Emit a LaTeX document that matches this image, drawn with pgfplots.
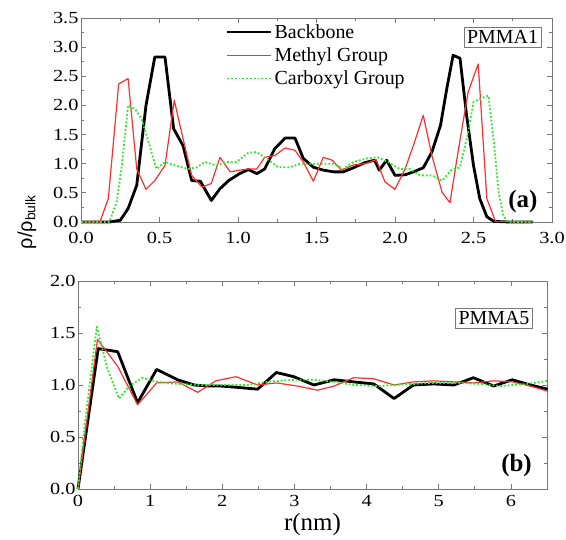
\documentclass[border=0pt]{standalone}
\usepackage{fontspec}
\setmainfont{Liberation Serif}
\newfontfamily\tickfont{Liberation Serif}[FakeStretch=1.2]
\newfontfamily\arialfont{Liberation Sans}
\usepackage{pgfplots}
\pgfplotsset{compat=1.18}
\definecolor{myred}{RGB}{255,45,45}
\definecolor{mygreen}{RGB}{40,235,40}
\definecolor{axgray}{RGB}{120,120,120}

\pgfplotstableread{
x y
0.00 0.00
0.18 0.00
0.25 0.03
0.30 0.23
0.355 0.63
0.414 2.00
0.47 2.83
0.535 2.83
0.59 1.60
0.65 1.31
0.705 0.71
0.76 0.70
0.83 0.37
0.885 0.57
0.94 0.71
1.01 0.83
1.066 0.90
1.12 0.83
1.17 0.91
1.235 1.26
1.30 1.44
1.363 1.44
1.416 1.09
1.48 0.94
1.543 0.89
1.61 0.86
1.67 0.86
1.735 0.93
1.81 1.02
1.87 1.06
1.90 0.89
1.947 1.06
2.00 0.80
2.064 0.81
2.117 0.86
2.18 0.93
2.235 1.20
2.29 1.66
2.33 2.29
2.37 2.86
2.414 2.81
2.456 1.83
2.50 0.97
2.54 0.40
2.585 0.09
2.63 0.01
2.73 0.00
2.88 0.00
}\backboneA

\pgfplotstableread{
x y
0.00 0.00
0.12 0.00
0.174 0.40
0.24 2.37
0.30 2.46
0.355 0.91
0.414 0.56
0.47 0.71
0.535 0.97
0.594 2.09
0.65 1.43
0.705 0.80
0.77 0.60
0.83 0.66
0.885 1.11
0.95 0.86
1.01 0.89
1.066 0.91
1.12 0.91
1.17 1.11
1.235 1.14
1.30 1.27
1.363 1.23
1.416 1.03
1.48 0.70
1.543 1.11
1.60 1.06
1.66 0.89
1.735 0.98
1.81 1.00
1.88 1.07
1.936 0.69
2.00 0.56
2.064 0.91
2.117 1.31
2.18 1.83
2.235 1.14
2.30 0.51
2.35 0.33
2.405 1.26
2.466 2.23
2.53 2.71
2.585 0.40
2.64 0.01
2.88 0.00
}\methylA

\pgfplotstableread{
x y
0.00 0.00
0.18 0.00
0.227 0.34
0.26 0.97
0.30 2.00
0.344 1.94
0.386 1.77
0.43 1.37
0.48 0.91
0.535 1.03
0.60 0.97
0.68 0.91
0.74 0.94
0.79 1.03
0.864 0.97
0.93 1.03
0.99 1.03
1.066 1.19
1.12 1.20
1.18 1.09
1.257 0.94
1.33 0.94
1.395 1.00
1.46 1.00
1.543 1.00
1.61 1.00
1.67 0.91
1.735 1.03
1.82 1.09
1.89 1.11
1.955 1.03
2.03 0.91
2.095 0.91
2.16 0.80
2.235 0.80
2.30 0.71
2.36 0.89
2.414 0.94
2.466 1.54
2.50 2.06
2.54 2.11
2.595 2.17
2.63 1.37
2.66 0.51
2.69 0.11
2.72 0.00
2.88 0.00
}\carboxylA

\pgfplotstableread{
x y
0.00 0.00
0.28 1.35
0.55 1.32
0.826 0.83
1.09 1.15
1.38 1.05
1.61 1.00
1.79 0.99
1.98 0.99
2.16 0.98
2.49 0.96
2.75 1.12
2.99 1.08
3.27 1.00
3.55 1.05
3.82 1.03
4.10 1.01
4.38 0.87
4.65 1.00
4.93 1.01
5.21 1.00
5.48 1.07
5.76 0.99
6.02 1.05
6.27 1.00
6.51 0.96
}\backboneB

\pgfplotstableread{
x y
0.00 0.00
0.27 1.44
0.55 1.18
0.826 0.81
1.09 1.02
1.38 1.03
1.66 0.93
1.91 1.04
2.19 1.08
2.49 1.00
2.75 1.02
3.04 0.99
3.32 0.95
3.55 0.99
3.82 1.07
4.10 1.06
4.38 1.00
4.65 1.03
4.93 1.04
5.21 1.03
5.48 1.02
5.76 1.04
6.02 1.03
6.27 0.99
6.51 0.94
}\methylB

\pgfplotstableread{
x y
0.00 0.00
0.09 0.60
0.26 1.56
0.41 1.15
0.57 0.87
0.71 0.99
0.89 1.07
1.10 1.03
1.38 1.01
1.70 1.00
2.02 1.00
2.35 1.00
2.62 1.03
2.99 1.05
3.27 1.05
3.55 1.03
3.82 1.00
4.15 0.99
4.38 1.00
4.65 1.01
4.93 1.02
5.30 1.02
5.58 1.01
5.85 0.99
6.22 1.01
6.51 1.04
}\carboxylB

\pgfplotsset{
  myaxis/.style={
    scale only axis,
    clip=false,
    axis line style={axgray, line width=0.9bp},
    every tick/.style={axgray, line width=0.8bp},
    tick align=inside,
    major tick length=5bp,
    minor tick length=3bp,
    minor tick num=1,
    tick label style={font=\tickfont\fontsize{17}{17}\selectfont, black},
    /pgf/number format/assume math mode=true,
    yticklabel style={/pgf/number format/fixed, /pgf/number format/fixed zerofill, /pgf/number format/precision=1, xshift=1bp},
  },
  bb/.style={black, line width=2.8bp, line join=round},
  me/.style={myred, line width=1.2bp, line join=round},
  ca/.style={mygreen, line width=1.8bp, dotted, line join=round},
}

\begin{document}
\begin{tikzpicture}
\useasboundingbox (0,0) rectangle (566bp,540bp);

\begin{axis}[myaxis,
  at={(81bp,318bp)}, anchor=south west,
  width=471bp, height=204bp,
  xmin=0, xmax=3, ymin=0, ymax=3.5,
  xtick={0,0.5,...,3}, ytick={0,0.5,...,3.5},
  xticklabel style={/pgf/number format/fixed, /pgf/number format/fixed zerofill, /pgf/number format/precision=1, yshift=-7bp},
  legend style={draw=none, fill=none, at={(rel axis cs:0.305,0.985)}, anchor=north west,
    font=\fontsize{20}{20}\selectfont, row sep=4bp, inner sep=1bp},
  legend cell align=left,
  legend image code/.code={\draw[#1] (0bp,0bp) -- (44bp,0bp);},
]
\addplot[bb] table[x=x,y=y] {\backboneA};
\addlegendentry{Backbone}
\addplot[me] table[x=x,y=y] {\methylA};
\addlegendentry{Methyl Group}
\addplot[ca] table[x=x,y=y] {\carboxylA};
\addlegendentry{Carboxyl Group}
\node[draw=axgray, fill=white, line width=0.8bp, font=\fontsize{20}{20}\selectfont, inner xsep=3bp, inner ysep=3bp] at (rel axis cs:0.895,0.905) {PMMA1};
\node[font=\bfseries\fontsize{25}{25}\selectfont] at (rel axis cs:0.938,0.10) {(a)};
\end{axis}

\begin{axis}[myaxis,
  at={(78bp,51bp)}, anchor=south west,
  width=469bp, height=208bp,
  xmin=0, xmax=6.5, ymin=0, ymax=2,
  xtick={0,1,...,6}, ytick={0,0.5,...,2},
  xticklabel style={yshift=-3bp},
  xlabel={r(nm)},
  xlabel style={font=\fontsize{25}{25}\selectfont, yshift=1bp},
]
\addplot[bb] table[x=x,y=y] {\backboneB};
\addplot[me] table[x=x,y=y] {\methylB};
\addplot[ca] table[x=x,y=y] {\carboxylB};
\node[draw=axgray, fill=white, line width=0.8bp, font=\fontsize{20}{20}\selectfont, inner xsep=3bp, inner ysep=3bp] at (rel axis cs:0.887,0.82) {PMMA5};
\node[font=\bfseries\fontsize{25}{25}\selectfont] at (rel axis cs:0.935,0.115) {(b)};
\end{axis}

\node[rotate=90, font=\arialfont\fontsize{20}{20}\selectfont] at (27bp,318bp) {ρ/ρ\textsubscript{bulk}};
\end{tikzpicture}
\end{document}
